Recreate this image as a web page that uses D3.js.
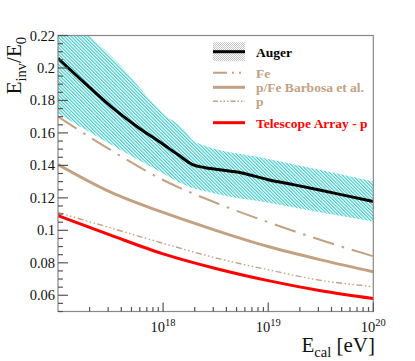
<!DOCTYPE html>
<html>
<head>
<meta charset="utf-8">
<script src="https://cdn.jsdelivr.net/npm/d3@7.9.0/dist/d3.min.js"></script>
<style>
  body { margin: 0; background: #fff; }
</style>
</head>
<body>
<svg id="chart" width="415" height="361" font-family="'Liberation Serif', 'Times New Roman', 'DejaVu Serif', serif"></svg>
<script>
// Auger measurement (log10 E, Einv/E0)
const augerLogE = [17, 17.25, 17.5, 17.75, 18, 18.15, 18.28, 18.4, 18.5, 18.75, 19, 19.25, 19.5, 19.75, 20];
const augerVal  = [0.206, 0.191, 0.1765, 0.164, 0.153, 0.1462, 0.1405, 0.1386, 0.1376, 0.1353, 0.1312, 0.128, 0.1247, 0.1212, 0.1178];

// systematic band
const bandUpLogE = [17, 17.3, 17.6, 18, 18.2, 18.3, 19, 19.5, 20];
const bandUp     = [0.238, 0.22, 0.201, 0.172, 0.162, 0.1545, 0.144, 0.1372, 0.130];
const bandLoLogE = [17, 17.5, 18, 18.2, 18.5, 19, 19.5, 20];
const bandLo     = [0.172, 0.153, 0.135, 0.128, 0.1225, 0.117, 0.111, 0.1055];

// models
const modelLogE = [17, 17.5, 18, 18.5, 19, 19.5, 20];
const feVal     = [0.170, 0.1495, 0.131, 0.117, 0.105, 0.094, 0.084];
const pfeVal    = [0.1405, 0.1235, 0.111, 0.100, 0.090, 0.0818, 0.0745];
const pVal      = [0.111, 0.1015, 0.092, 0.083, 0.0757, 0.0692, 0.0653];
const taVal     = [0.109, 0.097, 0.0855, 0.0765, 0.069, 0.0628, 0.058];

const yMajor = [0.06, 0.08, 0.1, 0.12, 0.14, 0.16, 0.18, 0.2, 0.22];
const xMajorExp = [18, 19, 20];

const TAN = "#c2a283";
const CYAN = "#3fcbcb";

const legendItems = [
  {label: "Auger", color: "#000", width: 3, dash: null, band: true},
  {label: "Fe", color: TAN, width: 2, dash: "14,5,2,5,2,5"},
  {label: "p/Fe  Barbosa et al.", color: TAN, width: 3, dash: null},
  {label: "p", color: TAN, width: 1.5, dash: "5,2,1.5,2,1.5,2,1.5,2"},
  {label: "Telescope Array - p", color: "#f00", width: 3, dash: null}
];

const svg = d3.select("#chart");
const L = 58, R = 373.3, T = 35.5, B = 311.5;

const x = d3.scaleLog().domain([1e17, 1e20]).range([L, R]);
const y = d3.scaleLinear().domain([0.05, 0.22]).range([B, T]);

const defs = svg.append("defs");
defs.append("clipPath").attr("id", "plotclip")
  .append("rect").attr("x", L).attr("y", T).attr("width", R - L).attr("height", B - T);

const hatch = defs.append("pattern").attr("id", "hatch")
  .attr("patternUnits", "userSpaceOnUse").attr("width", 2.4).attr("height", 2.4)
  .attr("patternTransform", "rotate(-45)");
hatch.append("line").attr("x1", 0.6).attr("y1", 0).attr("x2", 0.6).attr("y2", 2.4)
  .attr("stroke", CYAN).attr("stroke-width", 1.2);

const checker = defs.append("pattern").attr("id", "checker")
  .attr("patternUnits", "userSpaceOnUse").attr("width", 2).attr("height", 2);
checker.append("rect").attr("width", 1).attr("height", 1).attr("fill", "#c4c4c4");
checker.append("rect").attr("x", 1).attr("y", 1).attr("width", 1).attr("height", 1).attr("fill", "#c4c4c4");

const plot = svg.append("g").attr("clip-path", "url(#plotclip)");

// band: upper edge left->right, then lower edge right->left
const upPts = bandUpLogE.map((e, i) => [x(10 ** e), y(bandUp[i])]);
const loRev = bandLoLogE.map((e, i) => [x(10 ** e), y(bandLo[i])]).reverse();
const upPath = d3.line().curve(d3.curveMonotoneX)(upPts);
const loRevPath = d3.line().curve(d3.curveMonotoneX)(loRev);
plot.append("path")
  .attr("d", upPath + "L" + loRevPath.slice(1) + "Z")
  .attr("fill", "url(#hatch)");

function drawCurve(logE, vals, color, width, dash) {
  plot.append("path")
    .datum(logE.map((e, i) => [10 ** e, vals[i]]))
    .attr("fill", "none")
    .attr("stroke", color)
    .attr("stroke-width", width)
    .attr("stroke-dasharray", dash)
    .attr("d", d3.line().x(d => x(d[0])).y(d => y(d[1])).curve(d3.curveMonotoneX));
}

drawCurve(modelLogE, feVal, TAN, 2, "22,8,2.5,8");
drawCurve(modelLogE, pfeVal, TAN, 3, null);
drawCurve(modelLogE, pVal, TAN, 1.4, "6,2.5,1.5,2.5,1.5,2.5,1.5,2.5");
drawCurve(modelLogE, taVal, "#f00", 3, null);
drawCurve(augerLogE, augerVal, "#000", 3, null);

// frame
svg.append("rect").attr("x", L).attr("y", T).attr("width", R - L).attr("height", B - T)
  .attr("fill", "none").attr("stroke", "#888").attr("stroke-width", 1.2);

// y ticks
const yMinor = d3.range(0.05, 0.2201, 0.005).map(v => +v.toFixed(3));
svg.append("g").selectAll("line").data(yMinor).join("line")
  .attr("x1", L).attr("x2", d => yMajor.some(m => Math.abs(m - d) < 1e-6) ? L + 10 : L + 5)
  .attr("y1", d => y(d)).attr("y2", d => y(d))
  .attr("stroke", "#555").attr("stroke-width", 1.2);
svg.append("g").selectAll("text").data(yMajor).join("text")
  .attr("x", L - 3).attr("y", d => y(d) + 5)
  .attr("text-anchor", "end").attr("font-size", 14.5).attr("fill", "#111")
  .text(d => String(+d.toFixed(2)));

// x ticks
const xMinor = [];
for (let e = 17; e < 20; e++) for (let k = 2; k <= 10; k++) xMinor.push(k * 10 ** e);
svg.append("g").selectAll("line").data(xMinor).join("line")
  .attr("x1", d => x(d)).attr("x2", d => x(d))
  .attr("y1", B).attr("y2", (d, i) => (i % 9 === 8) ? B - 9 : B - 4.5)
  .attr("stroke", "#555").attr("stroke-width", 1.2);
const xl = svg.append("g").selectAll("text").data(xMajorExp).join("text")
  .attr("x", d => x(10 ** d)).attr("y", 331.5)
  .attr("text-anchor", "middle").attr("font-size", 14.5).attr("fill", "#111");
xl.append("tspan").text("10");
xl.append("tspan").attr("dy", -6).attr("font-size", 10.5).text(d => d);

// axis titles
const xt = svg.append("text").attr("x", 375).attr("y", 352).attr("text-anchor", "end")
  .attr("font-size", 21).attr("fill", "#111");
xt.append("tspan").text("E");
xt.append("tspan").attr("dy", 5).attr("font-size", 14.5).text("cal");
xt.append("tspan").attr("dy", -5).text(" [eV]");

const yt = svg.append("text").attr("transform", "translate(21,37) rotate(-90)")
  .attr("text-anchor", "end").attr("font-size", 21).attr("fill", "#111");
yt.append("tspan").text("E");
yt.append("tspan").attr("dy", 5).attr("font-size", 14.5).text("inv");
yt.append("tspan").attr("dy", -5).text("/E");
yt.append("tspan").attr("dy", 5).attr("font-size", 14.5).text("0");

// legend
const legY = [51.7, 72.7, 87.3, 101.3, 122.7];
const leg = svg.append("g");
legendItems.forEach((it, i) => {
  const cy = legY[i];
  if (it.band) {
    leg.append("rect").attr("x", 213).attr("y", cy - 9.5).attr("width", 32).attr("height", 19)
      .attr("fill", "url(#checker)");
  }
  leg.append("line").attr("x1", 213).attr("x2", 245).attr("y1", cy).attr("y2", cy)
    .attr("stroke", it.color).attr("stroke-width", it.width)
    .attr("stroke-dasharray", it.dash);
  leg.append("text").attr("x", 256).attr("y", cy + 4.8)
    .attr("font-size", 13.5).attr("font-weight", "bold").attr("fill", it.color)
    .text(it.label);
});
</script>
</body>
</html>
